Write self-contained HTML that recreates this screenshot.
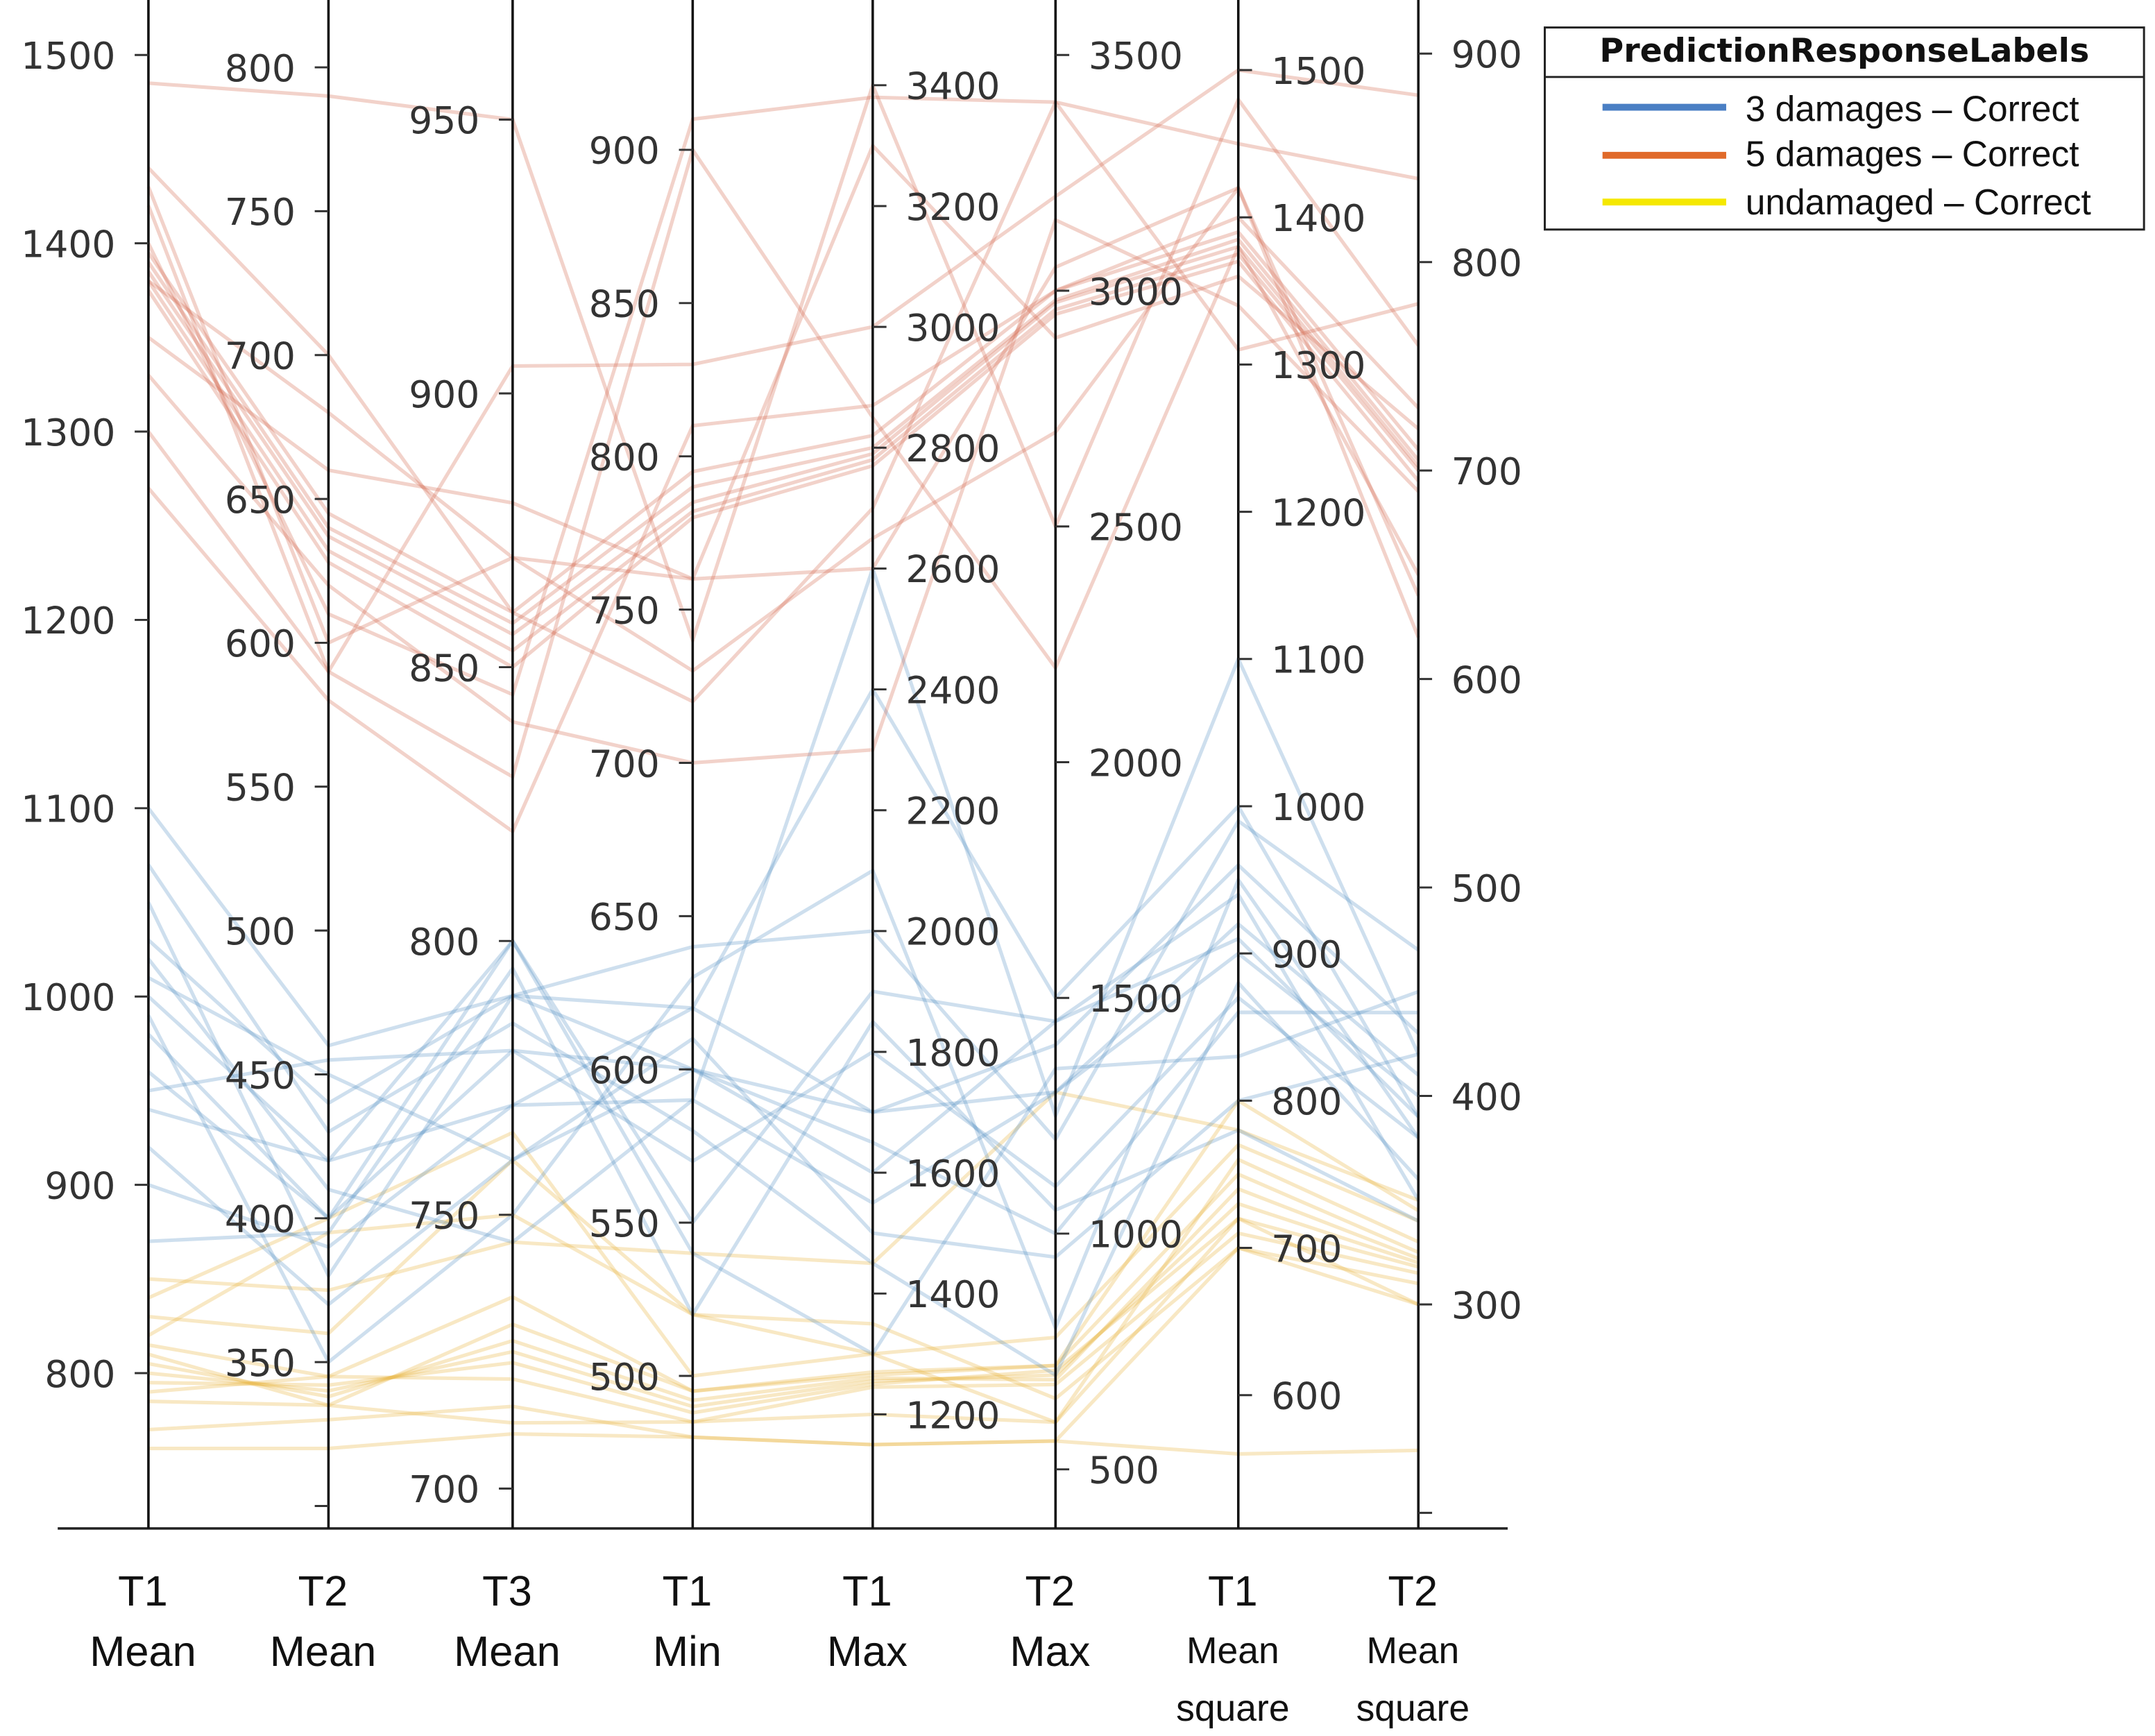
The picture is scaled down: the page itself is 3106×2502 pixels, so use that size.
<!DOCTYPE html>
<html>
<head>
<meta charset="utf-8">
<style>
html,body{margin:0;padding:0;background:#fff;}
svg{display:block;}
text{font-family:"DejaVu Sans","Liberation Sans",sans-serif;}
</style>
</head>
<body>
<svg id="chart" width="3106" height="2502" viewBox="0 0 1568 1263" preserveAspectRatio="none" xmlns="http://www.w3.org/2000/svg">
<rect width="1568" height="1263" fill="#fff"/>
<g id="lines"></g>
<g id="axes"></g>
<g id="legend">
  <rect x="1124" y="20" width="436" height="147" fill="#fff" stroke="#222" stroke-width="1.5"/>
  <text x="1342" y="45" text-anchor="middle" font-size="24" font-weight="bold" fill="#111">PredictionResponseLabels</text>
  <line x1="1124" y1="56" x2="1560" y2="56" stroke="#222" stroke-width="1.5"/>
  <g>
    <line x1="1166" y1="78" x2="1256" y2="78" stroke="#4a7fc4" stroke-width="5"/>
    <text x="1270" y="88" font-size="26" style="font-family:'Liberation Sans',sans-serif" fill="#111">3 damages – Correct</text>
  </g>
  <g>
    <line x1="1166" y1="113" x2="1256" y2="113" stroke="#e06a2a" stroke-width="5"/>
    <text x="1270" y="121" font-size="26" style="font-family:'Liberation Sans',sans-serif" fill="#111">5 damages – Correct</text>
  </g>
  <g>
    <line x1="1166" y1="147" x2="1256" y2="147" stroke="#f5e800" stroke-width="5"/>
    <text x="1270" y="156" font-size="26" style="font-family:'Liberation Sans',sans-serif" fill="#111">undamaged – Correct</text>
  </g>
</g>
</svg>
<script>
const NS = "http://www.w3.org/2000/svg";
const axisNames = [["T1","Mean"],["T2","Mean"],["T3","Mean"],["T1","Min"],["T1","Max"],["T2","Max"],["T1","Mean","square"],["T2","Mean","square"]];
const ticks0 = [800,900,1000,1100,1200,1300,1400,1500];
const ticks1 = [300,350,400,450,500,550,600,650,700,750,800];
const ticks2 = [700,750,800,850,900,950];
const ticks3 = [500,550,600,650,700,750,800,850,900];
const ticks4 = [1200,1400,1600,1800,2000,2200,2400,2600,2800,3000,3200,3400];
const ticks5 = [500,1000,1500,2000,2500,3000,3500];
const ticks6 = [600,700,800,900,1000,1100,1200,1300,1400,1500];
const ticks7 = [200,300,400,500,600,700,800,900];
const tickSets = [ticks0,ticks1,ticks2,ticks3,ticks4,ticks5,ticks6,ticks7];
const hideLabel = [[],[300],[],[],[],[],[],[200]];

const redLines = [
[1385,637,856,785,2790,2975,1380,702],
[1390,640,858,790,2800,2980,1385,705],
[1380,632,853,782,2780,2960,1375,700],
[1395,645,860,795,2820,3000,1390,710],
[1375,628,850,780,2770,2950,1370,695],
[1440,700,860,720,2700,3400,1450,840],
[1485,790,950,740,3400,2500,1480,760],
[1430,600,870,760,2600,3050,1420,640],
[1330,620,840,700,2300,3150,1340,690],
[1300,590,830,900,2850,2200,1380,650],
[1420,590,905,830,3000,3200,1500,880],
[1350,660,880,760,3300,2900,1360,720],
[1400,610,845,910,3380,3400,1310,780],
[1380,680,870,730,2650,2700,1420,620],
[1270,580,820,810,2870,3000,1400,730]
];
const blueLines = [
[1010,450,760,600,1700,1400,960,430],
[1000,420,770,590,1550,1300,900,400],
[980,400,780,570,1800,1100,870,380],
[1100,460,790,640,2000,1200,990,470],
[1050,380,790,620,2400,1500,1000,390],
[960,400,800,550,1900,1450,940,350],
[920,370,760,610,1500,950,800,420],
[1030,440,790,600,1650,1000,860,440],
[1070,430,785,580,1450,700,880,360],
[900,390,770,620,1700,1300,920,410],
[990,350,750,630,2100,800,950,380],
[940,420,800,540,1300,1350,830,450],
[1020,410,745,590,2600,1250,1100,420],
[870,395,795,520,1850,1050,780,340],
[950,455,780,600,1600,1450,910,390]
];
const yellowLines = [
[800,340,725,490,1255,700,730,320],
[805,338,727,492,1260,690,740,322],
[795,342,723,488,1250,710,720,318],
[810,335,730,495,1265,720,750,325],
[790,345,720,485,1245,680,710,315],
[770,330,715,480,1150,560,700,300],
[830,360,760,520,1300,780,770,340],
[760,320,710,480,1150,560,560,230],
[850,375,745,540,1450,1300,780,350],
[820,395,750,520,1350,650,700,310],
[785,335,712,485,1200,600,760,330],
[840,400,765,500,1300,600,720,300],
[815,345,735,495,1270,720,800,345]
];

const axX = [108,239,373,504,635,768,901,1032];
const calib = [[800,999,1500,40],[350,991,800,49],[700,1083,950,87],[500,1001,900,109],[1200,1029,3400,62],[500,1069,3500,40],[600,1015,1500,51],[300,949,900,39]];
const labelRight = [false,false,false,false,true,true,true,true];
function yScale(i,v){const c=calib[i];return c[1]+(v-c[0])*(c[3]-c[1])/(c[2]-c[0]);}

const linesG = document.getElementById('lines');
function drawGroup(data,color,name){
  data.forEach((row,k)=>{
    const p=document.createElementNS(NS,'polyline');
    p.setAttribute('points',row.map((v,i)=>axX[i]+','+yScale(i,v).toFixed(1)).join(' '));
    p.setAttribute('fill','none');
    p.setAttribute('stroke',color);
    p.setAttribute('stroke-width','2.6');
    
    
    linesG.appendChild(p);
  });
}
drawGroup(yellowLines,'rgba(232,178,60,0.3)','undamaged');
drawGroup(blueLines,'rgba(80,140,195,0.28)','three-damages');
drawGroup(redLines,'rgba(212,105,80,0.3)','five-damages');

const axesG=document.getElementById('axes');
const base=document.createElementNS(NS,'line');
base.setAttribute('x1',42);base.setAttribute('x2',1097);base.setAttribute('y1',1112);base.setAttribute('y2',1112);
base.setAttribute('stroke','#222');base.setAttribute('stroke-width','1.8');


axesG.appendChild(base);
axX.forEach((x,i)=>{
  const g=document.createElementNS(NS,'g');
  
  
  const l=document.createElementNS(NS,'line');
  l.setAttribute('x1',x);l.setAttribute('x2',x);l.setAttribute('y1',0);l.setAttribute('y2',1112);
  l.setAttribute('stroke','#111');l.setAttribute('stroke-width','1.8');
  g.appendChild(l);
  tickSets[i].forEach(v=>{
    const y=yScale(i,v);
    const t=document.createElementNS(NS,'line');
    const dx=labelRight[i]?10:-10;
    t.setAttribute('x1',x);t.setAttribute('x2',x+dx);t.setAttribute('y1',y);t.setAttribute('y2',y);
    t.setAttribute('stroke','#333');t.setAttribute('stroke-width','1.5');
    g.appendChild(t);
    if(hideLabel[i].indexOf(v)<0){
      const tx=document.createElementNS(NS,'text');
      tx.setAttribute('x',labelRight[i]?x+24:x-24);
      tx.setAttribute('y',y+10);
      tx.setAttribute('text-anchor',labelRight[i]?'start':'end');
      tx.setAttribute('font-size','27');
      tx.setAttribute('fill','#333');
      tx.textContent=v;
      
      
      g.appendChild(tx);
    }
  });
  const nm=axisNames[i];
  nm.forEach((s,j)=>{
    const tx=document.createElementNS(NS,'text');
    tx.setAttribute('x',x-4);
    const small=nm.length===3;
    tx.setAttribute('y',small?1168+j*42:1168+j*44);
    tx.setAttribute('text-anchor','middle');
    tx.setAttribute('font-size',small&&j>0?'27':'31');
    tx.setAttribute('style','font-family:"Liberation Sans",sans-serif');
    tx.setAttribute('fill','#111');
    tx.textContent=s;
    
    
    g.appendChild(tx);
  });
  axesG.appendChild(g);
});
</script>
</body>
</html>
